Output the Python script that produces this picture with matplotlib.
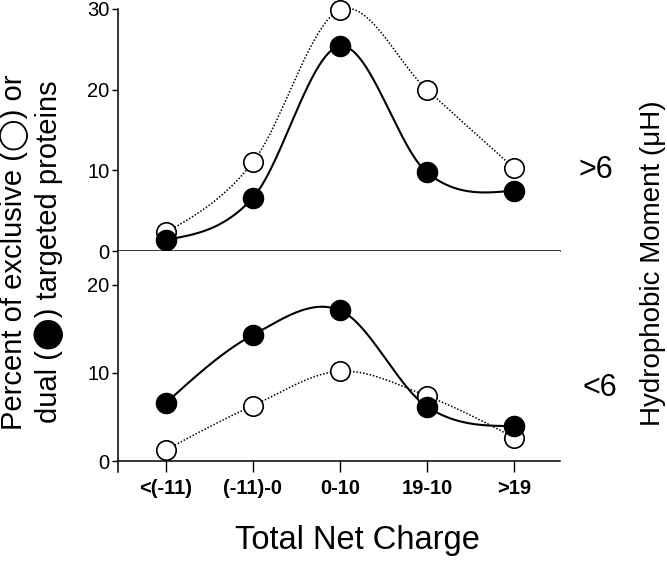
import numpy as np
import matplotlib
matplotlib.use('Agg')
import matplotlib.pyplot as plt

plt.rcParams['font.family'] = ['Liberation Sans', 'DejaVu Sans']

# categories of total net charge
categories = ['<(-11)', '(-11)-0', '0-10', '19-10', '>19']

# hydrophobic moment > 6 (top panel)
high_exclusive = [2.3, 11.0, 29.9, 20.0, 10.3]
high_dual = [1.4, 6.6, 25.4, 9.75, 7.5]

# hydrophobic moment < 6 (bottom panel)
low_exclusive = [1.3, 6.3, 10.2, 7.4, 2.7]
low_dual = [6.6, 14.3, 17.1, 6.2, 4.0]


def smooth_curve(x, y, n=60):
    # catmull-rom style cubic through the points, ends with zero curvature
    x = np.asarray(x, float)
    y = np.asarray(y, float)
    k = len(x)
    m = np.zeros(k)
    m[1:-1] = (y[2:] - y[:-2]) / (x[2:] - x[:-2])
    m[0] = 1.5 * (y[1] - y[0]) / (x[1] - x[0]) - 0.5 * m[1]
    m[-1] = 1.5 * (y[-1] - y[-2]) / (x[-1] - x[-2]) - 0.5 * m[-2]
    xs_all, ys_all = [], []
    for i in range(k - 1):
        h = x[i + 1] - x[i]
        t = np.linspace(0, 1, n)
        h00 = 2 * t**3 - 3 * t**2 + 1
        h10 = t**3 - 2 * t**2 + t
        h01 = -2 * t**3 + 3 * t**2
        h11 = t**3 - t**2
        xs_all.append(x[i] + t * h)
        ys_all.append(h00 * y[i] + h10 * h * m[i] + h01 * y[i + 1] + h11 * h * m[i + 1])
    return np.concatenate(xs_all), np.concatenate(ys_all)


def draw_panel(ax, exclusive, dual):
    xpos = np.arange(len(categories))
    xs, ys = smooth_curve(xpos, exclusive)
    ax.plot(xs, ys, color='black', lw=1.1, ls=(0, (1, 1.2)), zorder=2)
    xs, ys = smooth_curve(xpos, dual)
    ax.plot(xs, ys, color='black', lw=1.5, zorder=2)
    ax.plot(xpos, exclusive, 'o', ms=14, mfc='white', mec='black', mew=1.2, zorder=3)
    ax.plot(xpos, dual, 'o', ms=14.5, mfc='black', mec='black', zorder=4)
    ax.set_xlim(-0.55, 4.53)
    ax.set_xticks(xpos)
    ax.spines['top'].set_visible(False)
    ax.spines['right'].set_visible(False)
    ax.spines['left'].set_linewidth(1.1)
    ax.spines['bottom'].set_linewidth(1.1)
    ax.tick_params(axis='x', direction='out', length=8, width=1.0)
    ax.tick_params(axis='y', direction='out', length=4, width=1.0, pad=2, labelsize=14.5)
    for line in ax.lines:
        line.set_clip_on(False)


fig = plt.figure(figsize=(6.67, 5.62), dpi=100)
ax_top = fig.add_axes([118 / 667, 1 - 251 / 562, 442 / 667, 242 / 562])
ax_bot = fig.add_axes([118 / 667, 1 - 472 / 562, 442 / 667, 221 / 562])

draw_panel(ax_top, high_exclusive, high_dual)
ax_top.set_ylim(0, 30)
ax_top.set_yticks([0, 10, 20, 30])
ax_top.set_xticklabels([])

draw_panel(ax_bot, low_exclusive, low_dual)
ax_bot.set_ylim(-1.2, 23.8)
ax_bot.set_yticks([0, 10, 20])
ax_bot.spines['bottom'].set_position(('data', 0))
ax_bot.set_xticklabels(categories, fontsize=14.5, fontweight='bold')
ax_bot.tick_params(axis='x', pad=5)

fig.text(357 / 667, 1 - 541 / 562, 'Total Net Charge', fontsize=23.5,
         ha='center', va='center')
fig.text(32 / 667, 1 - 252 / 562,
         'Percent of exclusive (\u25ef) or\ndual (\u2b24) targeted proteins',
         fontsize=21, rotation=90, ha='center', va='center', linespacing=1.2,
         family=['Liberation Sans', 'DejaVu Sans', 'Noto Sans CJK SC'])
fig.text(653 / 667, 1 - 263 / 562, 'Hydrophobic Moment (\u03bcH)', fontsize=20,
         rotation=90, ha='center', va='center')
fig.text(596 / 667, 1 - 170 / 562, '>6', fontsize=22, ha='center', va='center')
fig.text(600 / 667, 1 - 388 / 562, '<6', fontsize=22, ha='center', va='center')

fig.savefig('out.png', dpi=100)
